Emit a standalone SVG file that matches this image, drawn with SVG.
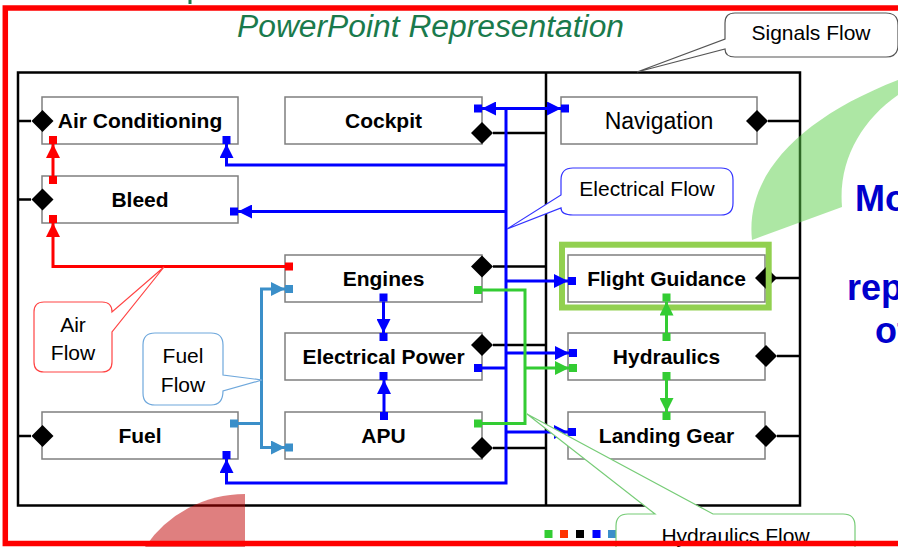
<svg xmlns="http://www.w3.org/2000/svg" width="898" height="547" viewBox="0 0 898 547">
<style>
.box{fill:#fff;stroke:#7f7f7f;stroke-width:1.5}
.lbl{font-family:"Liberation Sans",Arial,sans-serif;font-size:21px;font-weight:bold;fill:#000;text-anchor:middle}
.lbn{font-family:"Liberation Sans",Arial,sans-serif;font-size:23px;fill:#000;text-anchor:middle}
.cl{font-family:"Liberation Sans",Arial,sans-serif;font-size:21px;fill:#000;text-anchor:middle}
.big{font-family:"Liberation Sans",Arial,sans-serif;font-size:36px;font-weight:bold;fill:#0000cc}
.sig{fill:none;stroke:#000;stroke-width:2.5}
.el{fill:none;stroke:#0000ff;stroke-width:3}
.air{fill:none;stroke:#ff0000;stroke-width:3}
.hyd{fill:none;stroke:#33cc33;stroke-width:3}
.fuel{fill:none;stroke:#3b8fc9;stroke-width:3}
.pe{fill:#0000ff}.pa{fill:#ff0000}.ph{fill:#33cc33}.pf{fill:#3b8fc9}
.co{fill:#fff;stroke-width:1.2}
</style>
<defs>
<path id="dia" d="M-11,0 L0,-11 L11,0 L0,11 Z" fill="#000"/>
<marker id="ae" viewBox="0 0 14 14" refX="14" refY="7" markerWidth="14" markerHeight="14" markerUnits="userSpaceOnUse" orient="auto-start-reverse"><path d="M0,0 L14,7 L0,14 Z" fill="#0000ff"/></marker>
<marker id="aa" viewBox="0 0 14 14" refX="14" refY="7" markerWidth="14" markerHeight="14" markerUnits="userSpaceOnUse" orient="auto"><path d="M0,0 L14,7 L0,14 Z" fill="#ff0000"/></marker>
<marker id="ah" viewBox="0 0 14 14" refX="14" refY="7" markerWidth="14" markerHeight="14" markerUnits="userSpaceOnUse" orient="auto"><path d="M0,0 L14,7 L0,14 Z" fill="#33cc33"/></marker>
<marker id="af" viewBox="0 0 14 14" refX="14" refY="7" markerWidth="14" markerHeight="14" markerUnits="userSpaceOnUse" orient="auto"><path d="M0,0 L14,7 L0,14 Z" fill="#3b8fc9"/></marker>
</defs>
<rect width="898" height="547" fill="#fff"/>
<rect x="188.5" y="0" width="3" height="4" fill="#1a7a4c"/>
<text x="237" y="37" font-family="'Liberation Sans',Arial,sans-serif" font-size="31" font-style="italic" fill="#1a7a4c" textLength="387" lengthAdjust="spacingAndGlyphs">PowerPoint Representation</text>

<!-- frame -->
<rect x="18" y="72.5" width="782" height="433" fill="none" stroke="#000" stroke-width="2.5"/>
<line x1="546" y1="72.5" x2="546" y2="505.5" stroke="#000" stroke-width="2.5"/>

<!-- decorations -->
<path d="M752 240 C745 175 800 118 898 80 L898 95 C862 120 838 160 842 207 Z" fill="#5ccf4a" fill-opacity="0.5"/>
<path d="M245 494 A121 121 0 0 0 145 547 L245 547 Z" fill="#c00000" fill-opacity="0.5"/>
<text class="big" x="855" y="211">Mo</text>
<text class="big" x="847" y="300">rep</text>
<text class="big" x="875" y="343">of</text>

<!-- nodes -->
<g id="air-conditioning"><rect class="box" x="42" y="97" width="196" height="47"/><text class="lbl" x="140" y="128">Air Conditioning</text><use href="#dia" x="42.5" y="121"/></g>
<g id="cockpit"><rect class="box" x="285" y="97" width="197" height="47"/><text class="lbl" x="383.5" y="128">Cockpit</text><use href="#dia" x="482" y="133"/></g>
<g id="navigation"><rect class="box" x="561" y="97" width="196" height="47"/><text class="lbn" x="659" y="129">Navigation</text><use href="#dia" x="757" y="121"/></g>
<g id="bleed"><rect class="box" x="42" y="176" width="196" height="47"/><text class="lbl" x="140" y="207">Bleed</text><use href="#dia" x="42.5" y="199.5"/></g>
<g id="engines"><rect class="box" x="285" y="255" width="197" height="47"/><text class="lbl" x="383.5" y="286">Engines</text><use href="#dia" x="482" y="266.5"/></g>
<g id="electrical-power"><rect class="box" x="285" y="333" width="197" height="47"/><text class="lbl" x="383.5" y="364">Electrical Power</text><use href="#dia" x="482" y="345"/></g>
<g id="apu"><rect class="box" x="285" y="412" width="197" height="47"/><text class="lbl" x="383.5" y="443">APU</text><use href="#dia" x="482" y="448"/></g>
<g id="fuel"><rect class="box" x="42" y="412" width="196" height="47"/><text class="lbl" x="140" y="443">Fuel</text><use href="#dia" x="42.5" y="436"/></g>
<g id="flight-guidance"><rect class="box" x="568" y="255" width="197" height="47"/><text class="lbl" x="666.5" y="286">Flight Guidance</text><use href="#dia" x="766" y="278"/><rect x="562" y="244.7" width="206.7" height="62.8" fill="none" stroke="#92d050" stroke-width="6"/></g>
<g id="hydraulics"><rect class="box" x="568" y="333" width="197" height="47"/><text class="lbl" x="666.5" y="364">Hydraulics</text><use href="#dia" x="766" y="356"/></g>
<g id="landing-gear"><rect class="box" x="568" y="412" width="197" height="47"/><text class="lbl" x="666.5" y="443">Landing Gear</text><use href="#dia" x="766" y="436"/></g>

<!-- connectors -->
<g id="connectors">
<path class="sig" d="M18 121 H31 M18 199.5 H31 M18 436 H31 M493 133 H546 M493 266.5 H546 M493 345 H546 M493 448 H546 M768 121 H800 M772 278 H800 M777 356 H800 M777 436 H800"/>
<path class="air" d="M285 266.5 H53 V223" marker-end="url(#aa)"/>
<path class="air" d="M53 176 V144" marker-end="url(#aa)"/>
<path class="fuel" d="M238 423.5 H261.5 V289 H285" marker-end="url(#af)"/>
<path class="fuel" d="M261.5 423.5 V447.5 H285" marker-end="url(#af)"/>
<path class="el" d="M482 108.5 H561" marker-start="url(#ae)" marker-end="url(#ae)"/>
<path class="el" d="M506 108.5 V483 H226.5 V459" marker-end="url(#ae)"/>
<path class="el" d="M506 165 H226.5 V144" marker-end="url(#ae)"/>
<path class="el" d="M506 211.5 H238" marker-end="url(#ae)"/>
<path class="el" d="M506 281 H568" marker-end="url(#ae)"/>
<path class="el" d="M482 368 H506"/>
<path class="el" d="M506 353 H569" marker-end="url(#ae)"/>
<path class="el" d="M506 432 H568" marker-end="url(#ae)"/>
<path class="el" d="M383.5 301.5 V333" marker-end="url(#ae)"/>
<path class="el" d="M384 412 V380" marker-end="url(#ae)"/>
<path class="hyd" d="M482 290 H525 V423.5 H482"/>
<path class="hyd" d="M525 368 H569" marker-end="url(#ah)"/>
<path class="hyd" d="M666.5 333 V301.5" marker-end="url(#ah)"/>
<path class="hyd" d="M666.5 380 V412" marker-end="url(#ah)"/>
<rect class="pa" x="285" y="262.5" width="8" height="8"/>
<rect class="pa" x="49" y="215" width="8" height="8"/>
<rect class="pa" x="49" y="176" width="8" height="8"/>
<rect class="pa" x="49" y="136" width="8" height="8"/>
<rect class="pf" x="230" y="419.5" width="8" height="8"/>
<rect class="pf" x="285" y="285" width="8" height="8"/>
<rect class="pf" x="285" y="443.5" width="8" height="8"/>
<rect class="pe" x="474" y="104.5" width="8" height="8"/>
<rect class="pe" x="561" y="104.5" width="8" height="8"/>
<rect class="pe" x="222.5" y="451" width="8" height="8"/>
<rect class="pe" x="222.5" y="136" width="8" height="8"/>
<rect class="pe" x="230" y="207.5" width="8" height="8"/>
<rect class="pe" x="568" y="277" width="8" height="8"/>
<rect class="pe" x="474" y="364" width="8" height="8"/>
<rect class="pe" x="569" y="349" width="8" height="8"/>
<rect class="pe" x="568" y="428" width="8" height="8"/>
<rect class="pe" x="379.5" y="293.5" width="8" height="8"/>
<rect class="pe" x="379.5" y="333" width="8" height="8"/>
<rect class="pe" x="380" y="412" width="8" height="8"/>
<rect class="pe" x="379.5" y="372" width="8" height="8"/>
<rect class="ph" x="474" y="286" width="8" height="8"/>
<rect class="ph" x="474" y="419.5" width="8" height="8"/>
<rect class="ph" x="569" y="364" width="8" height="8"/>
<rect class="ph" x="662.5" y="333" width="8" height="8"/>
<rect class="ph" x="662.5" y="293.5" width="8" height="8"/>
<rect class="ph" x="662.5" y="372" width="8" height="8"/>
<rect class="ph" x="662.5" y="412" width="8" height="8"/>
</g>

<!-- legend squares -->
<rect x="544.5" y="530" width="8" height="8" fill="#33cc33"/>
<rect x="560" y="530" width="8" height="8" fill="#ff3300"/>
<rect x="576" y="530" width="8" height="8" fill="#000"/>
<rect x="592.5" y="530" width="8" height="8" fill="#0000ff"/>
<rect x="608" y="530" width="8" height="8" fill="#3b8fc9"/>

<!-- callouts -->
<g id="signals-flow"><path class="co" stroke="#555" d="M735 13 H886 Q898 13 898 25 V45 Q898 57 886 57 H735 Q725 57 725 49 L637 72 L725 39 V23 Q725 13 735 13 Z"/><text class="cl" x="811" y="40" font-size="20">Signals Flow</text></g>
<g id="electrical-flow"><path class="co" stroke="#3333ff" d="M573 168 H721 Q733 168 733 180 V203 Q733 215 721 215 H573 Q561 215 561 208 L507 229 L561 195 V180 Q561 168 573 168 Z"/><text class="cl" x="647" y="196">Electrical Flow</text></g>
<g id="air-flow"><path class="co" stroke="#ff4444" d="M44 302 H102 Q112 302 112 312 L164 267 L112 332 V362 Q112 372 102 372 H44 Q34 372 34 362 V312 Q34 302 44 302 Z"/><text class="cl" x="73" y="332">Air</text><text class="cl" x="73" y="360">Flow</text></g>
<g id="fuel-flow"><path class="co" stroke="#6fa8dc" d="M155 333 H211 Q223 333 223 345 V375 L262 380 L223 391 Q223 405 211 405 H155 Q143 405 143 393 V345 Q143 333 155 333 Z"/><text class="cl" x="183" y="363">Fuel</text><text class="cl" x="183" y="392">Flow</text></g>
<g id="hydraulics-flow"><path class="co" stroke="#77cc77" d="M616 560 V526 Q616 514 628 514 H655 L527 414 L713 514 H843 Q855 514 855 526 V560"/><text class="cl" x="735.5" y="543" font-size="23">Hydraulics Flow</text></g>

<rect x="5.3" y="8" width="900" height="535.5" fill="none" stroke="#ff0000" stroke-width="5.5"/>
</svg>
